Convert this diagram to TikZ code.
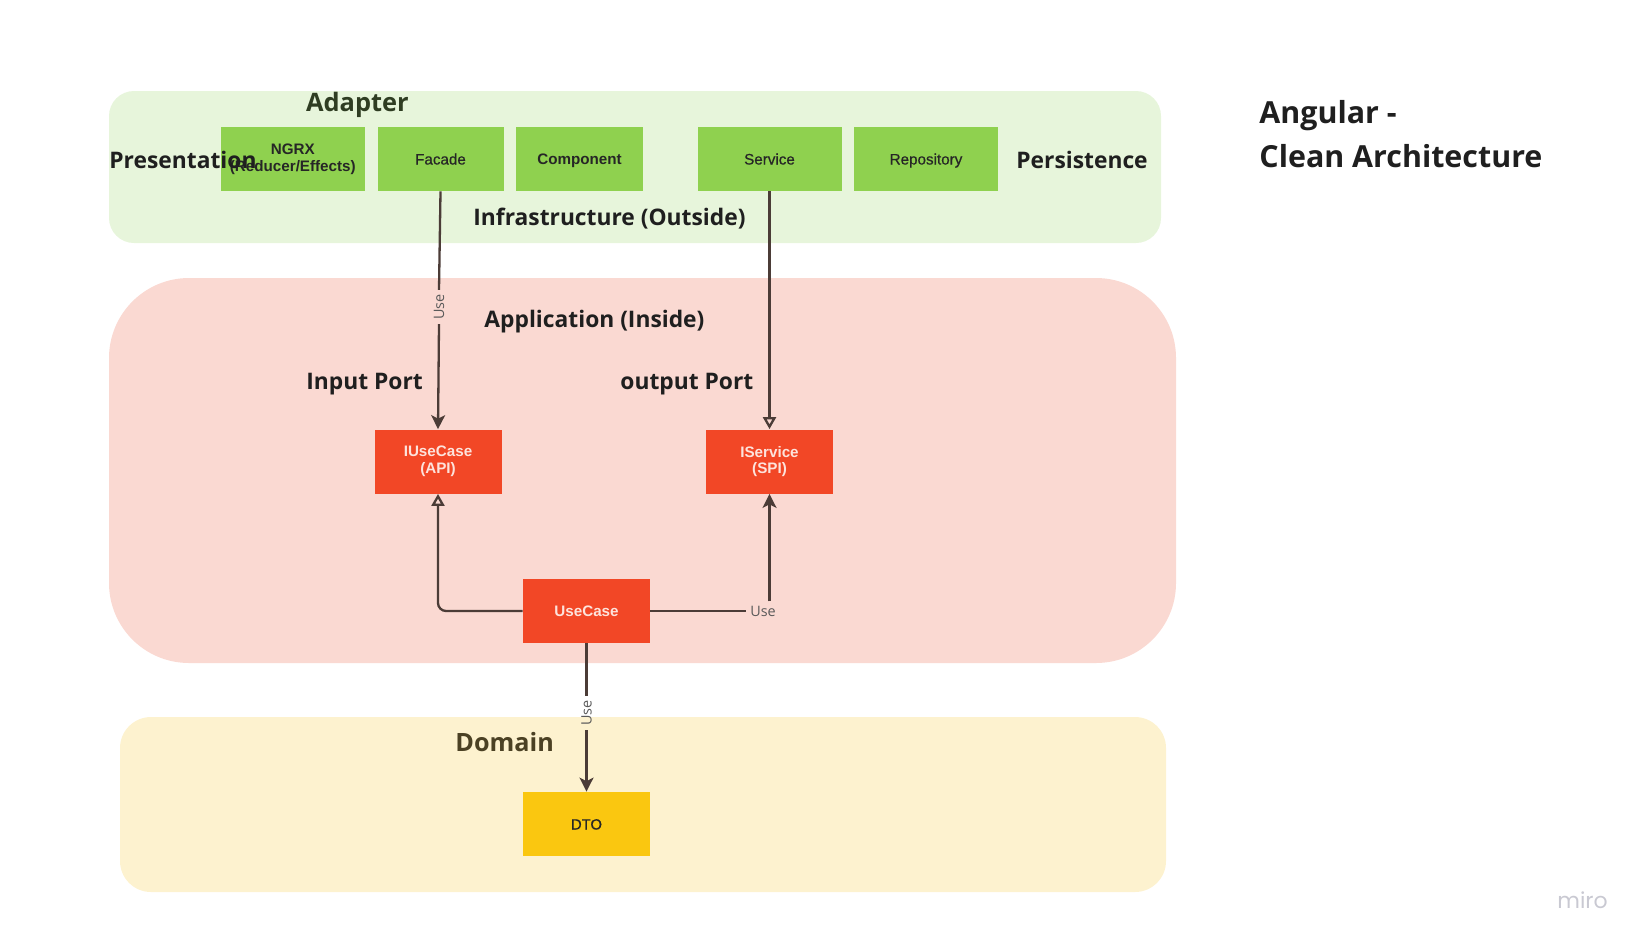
\documentclass[tikz,border=0pt]{standalone}
\usepackage{fontspec}
\setmainfont{Open Sans}
\newfontfamily\boxfont{Liberation Sans}
\newfontfamily\boxmedfont[FakeBold=0.6]{Liberation Sans}
\newfontfamily\mirofont{Poppins}
\usetikzlibrary{arrows.meta}
\definecolor{greenbg}{HTML}{E7F5DB}
\definecolor{greenbox}{HTML}{8FD14F}
\definecolor{redbg}{HTML}{FAD9D2}
\definecolor{redbox}{HTML}{F24726}
\definecolor{yellowbg}{HTML}{FDF2CF}
\definecolor{yellowbox}{HTML}{FAC710}
\definecolor{redtext}{HTML}{FDE3DC}
\definecolor{linecol}{HTML}{4B3C37}
\definecolor{labelcol}{HTML}{1F1F1F}
\definecolor{adaptercol}{HTML}{2F3D22}
\definecolor{domaincol}{HTML}{4B4124}
\definecolor{usecol}{HTML}{5A5A5A}
\definecolor{mirocol}{HTML}{C9C9D2}
\begin{document}
\begin{tikzpicture}[x=0.5pt,y=-0.5pt,
  gbox/.style={fill=greenbox, minimum height=32pt, inner sep=0pt, align=center,
    font=\boxmedfont\fontsize{7.6}{8.4}\selectfont, text=black!85},
  rbox/.style={fill=redbox, minimum width=63.5pt, minimum height=32pt, inner sep=0pt, align=center,
    font=\boxfont\bfseries\fontsize{7.6}{8.4}\selectfont, text=redtext},
  ybox/.style={fill=yellowbox, minimum width=63.5pt, minimum height=32pt, inner sep=0pt, align=center,
    font=\boxmedfont\fontsize{7.4}{8.4}\selectfont, text=black!85},
  oneline/.style={text height=5.5pt, text depth=0pt},
  lbl/.style={anchor=base west, inner sep=0pt, font=\bfseries\fontsize{11.4}{14}\selectfont, text=labelcol},
  uselbl/.style={inner sep=2pt, font=\fontsize{7.2}{8}\selectfont, text=usecol},
  conn/.style={draw=linecol, line width=1.15pt},
  filledtip/.style={-{Stealth[length=7pt,width=7pt,inset=1.8pt]}},
  opentip/.style={-{Triangle[open,length=6pt,width=6.5pt]}}
]
\useasboundingbox (0,0) rectangle (1647,948);
% regions
\fill[greenbg, rounded corners=12.5pt] (109,91) rectangle (1161,243);
\fill[redbg, rounded corners=40pt] (109,278) rectangle (1176,663);
\fill[yellowbg, rounded corners=15.5pt] (120,717) rectangle (1166,892);

% green boxes
\node[gbox, minimum width=72pt, font=\boxfont\bfseries\fontsize{7.6}{8.4}\selectfont] (ngrx) at (292.8,159) {NGRX\\(Reducer/Effects)};
\node[gbox, oneline, minimum width=63pt] (facade) at (440.5,159) {Facade};
\node[gbox, oneline, minimum width=63.5pt, font=\boxfont\bfseries\fontsize{7.6}{8.4}\selectfont] (component) at (579.5,159) {Component};
\node[gbox, oneline, minimum width=72pt] (service) at (769.5,159) {Service};
\node[gbox, oneline, minimum width=72pt] (repository) at (926,159) {Repository};

% red boxes
\node[rbox] (iusecase) at (438,461.5) {IUseCase\\(API)};
\node[rbox] (iservice) at (769.5,461.5) {IService\\(SPI)};
\node[rbox, oneline] (usecase) at (586.5,611) {UseCase};
% yellow box
\node[ybox, oneline] (dto) at (586.5,824) {DTO};

% labels
\node[lbl, font=\bfseries\fontsize{12.7}{15}\selectfont, text=adaptercol] (adapter) at (305.7,111) {Adapter};
\node[lbl] (presentation) at (109,168) {Presentation};
\node[lbl] (persistence) at (1016,168) {Persistence};
\node[lbl] (infra) at (473,225) {Infrastructure (Outside)};
\node[lbl] (app) at (484,327) {Application (Inside)};
\node[lbl] (inport) at (306,389) {Input Port};
\node[lbl] (outport) at (620,389) {output Port};
\node[lbl, font=\bfseries\fontsize{12.6}{15}\selectfont, text=domaincol] (domain) at (455,751) {Domain};
\node[lbl, font=\bfseries\fontsize{15.2}{22}\selectfont] (title1) at (1259,123) {Angular -};
\node[lbl, font=\bfseries\fontsize{15.2}{22}\selectfont] (title2) at (1259,167) {Clean Architecture};
\node[lbl, font=\mirofont\fontsize{11}{12}\selectfont, text=mirocol] (miro) at (1557,908) {miro};

% connectors
\node[uselbl, rotate=90] (use1) at (439,307) {Use};
\draw[conn] (facade.south) -- (use1.east);
\draw[conn, filledtip] (use1.west) -- (iusecase.north);

\draw[conn, opentip] (service.south) -- (iservice.north);

\draw[conn, opentip, rounded corners=4pt] (usecase.west) -| (iusecase.south);

\node[uselbl] (use2) at (763,611) {Use};
\draw[conn] (usecase.east) -- (use2.west);
\draw[conn, filledtip] (use2.north -| iservice.south) -- (iservice.south);

\node[uselbl, rotate=90] (use3) at (586.5,713) {Use};
\draw[conn] (usecase.south) -- (use3.east);
\draw[conn, filledtip] (use3.west) -- (dto.north);
\end{tikzpicture}
\end{document}
